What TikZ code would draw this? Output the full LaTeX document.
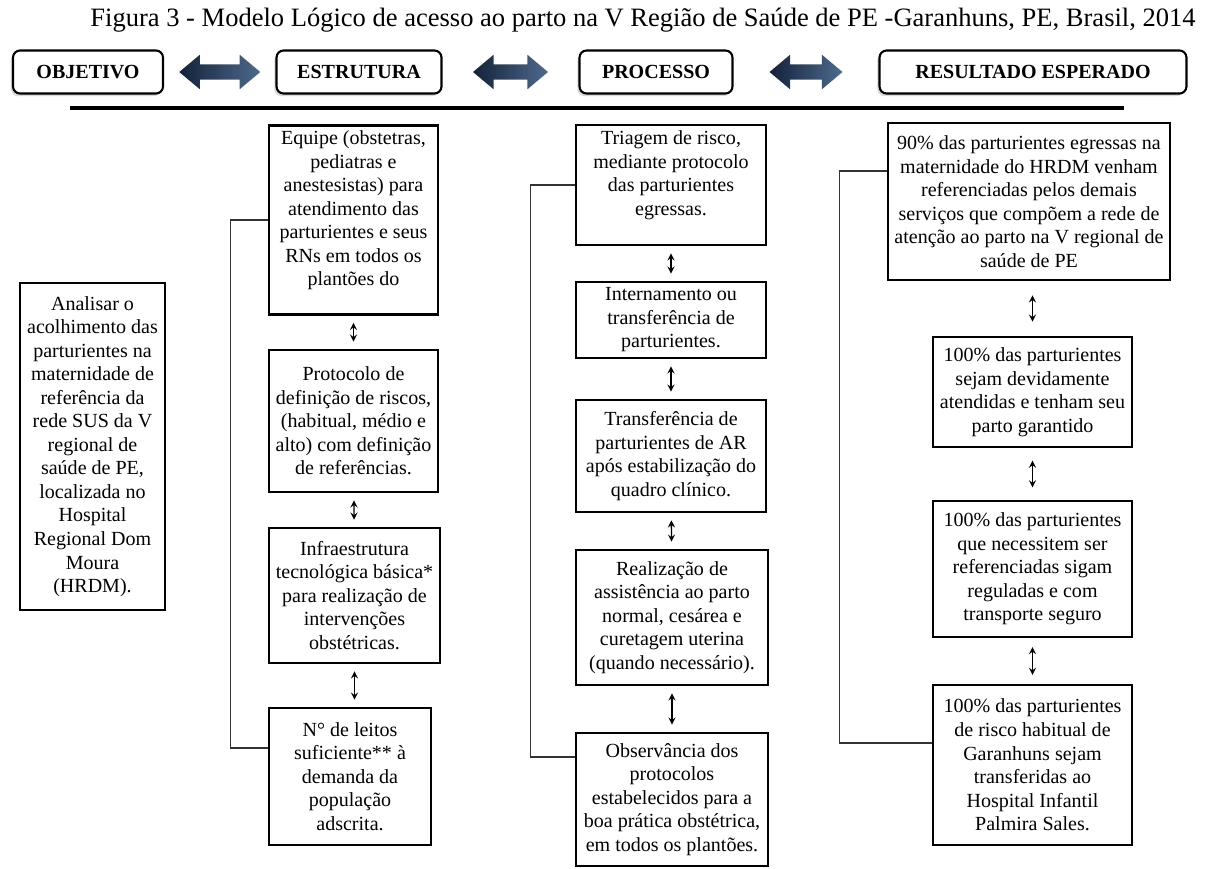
\documentclass[tikz,border=0pt]{standalone}
\usepackage{fontspec}
\setmainfont{Liberation Serif}
\usetikzlibrary{shapes, shapes.arrows, positioning, shadows, calc}
\definecolor{navydark}{HTML}{13223A}
\definecolor{navylight}{HTML}{4F6A8E}

\begin{document}
\begin{tikzpicture}[x=0.02cm, y=-0.02cm,
        head/.style={draw, line width=1.2pt, rounded corners=4pt, fill=white, minimum height=0.86cm,
            font=\fontsize{11.4}{13.4}\selectfont\bfseries,
            drop shadow={shadow xshift=-1.2pt, shadow yshift=-1.5pt, opacity=0.3}},
        bigarrow/.style={double arrow, draw=none, left color=navydark, right color=navylight,
            minimum height=#1, inner sep=4.2pt, double arrow head extend=5.4pt, double arrow tip angle=80},
        box/.style={draw, line width=1.5pt, fill=white, align=center, inner xsep=3pt, inner ysep=3pt,
            font=\fontsize{11.4}{13.4}\selectfont},
        link/.style={line width=0.8pt, draw=black!80},
        updown/.style={<->, >=stealth, line width=0.8pt, shorten <=#1, shorten >=#1},
        updown/.default=4pt]
        \useasboundingbox (0,0) rectangle (1214,869);

        \node (title) at (643,20) {\fontsize{15.1}{18}\selectfont Figura 3 - Modelo Lógico de acesso ao parto na V Região de Saúde de PE -Garanhuns, PE, Brasil, 2014};

        \node[head, minimum width=3.0cm] (hobj) at (88,72) {OBJETIVO};
        \node[head, minimum width=3.3cm] (hest) at (359,72) {ESTRUTURA};
        \node[head, minimum width=3.06cm] (hpro) at (656,72) {PROCESSO};
        \node[head, minimum width=6.14cm] (hres) at (1033,72) {RESULTADO ESPERADO};

        \node[bigarrow=1.62cm] (a1) at ($(hobj.east)!0.5!(hest.west)$) {};
        \node[bigarrow=1.5cm] (a2) at ($(hest.east)!0.5!(hpro.west)$) {};
        \node[bigarrow=1.46cm] (a3) at ($(hpro.east)!0.5!(hres.west)$) {};

        \coordinate (rulel) at (70,108);
        \coordinate (ruler) at (1124,108);
        \draw[line width=1.8pt] (rulel) -- (ruler);

        % objetivo
        \node[box, minimum width=2.9cm, minimum height=6.54cm] (obj) at (92.5,446.5) {Analisar o\\ acolhimento das\\ parturientes na\\ maternidade de\\ referência da\\ rede SUS da V\\ regional de\\ saúde de PE,\\ localizada no\\ Hospital\\ Regional Dom\\ Moura\\ (HRDM).};

        % estrutura
        \node[box, inner ysep=1.5pt, minimum width=3.38cm, minimum height=3.78cm] (e1) at (353.5,220) {Equipe (obstetras,\\ pediatras e\\ anestesistas) para\\ atendimento das\\ parturientes e seus\\ RNs em todos os\\ plantões do\\ \mbox{}};
        \node[box, minimum width=3.38cm, minimum height=2.84cm] (e2) at (353.5,421) {Protocolo de\\ definição de riscos,\\ (habitual, médio e\\ alto) com definição\\ de referências.};
        \node[box, minimum width=3.42cm, minimum height=2.7cm] (e3) at (354.5,595.5) {Infraestrutura\\ tecnológica básica*\\ para realização de\\ intervenções\\ obstétricas.};
        \node[box, minimum width=3.24cm, minimum height=2.74cm] (e4) at (350,776.5) {N° de leitos\\ suficiente** à\\ demanda da\\ população\\ adscrita.};

        % processo
        \node[box, inner ysep=1.5pt, minimum width=3.8cm, minimum height=2.4cm] (p1) at (671,185) {Triagem de risco,\\ mediante protocolo\\ das parturientes\\ egressas.\\ \mbox{}};
        \node[box, minimum width=3.8cm, minimum height=1.52cm] (p2) at (671,320) {Internamento ou\\ transferência de\\ parturientes.};
        \node[box, minimum width=3.8cm, minimum height=2.24cm] (p3) at (671,456) {Transferência de\\ parturientes de AR\\ após estabilização do\\ quadro clínico.};
        \node[box, minimum width=3.84cm, minimum height=2.7cm] (p4) at (672,617.5) {Realização de\\ assistência ao parto\\ normal, cesárea e\\ curetagem uterina\\ (quando necessário).};
        \node[box, minimum width=3.84cm, minimum height=2.66cm] (p5) at (672,799.5) {Observância dos\\ protocolos\\ estabelecidos para a\\ boa prática obstétrica,\\ em todos os plantões.};

        % resultado esperado
        \node[box, minimum width=5.64cm, minimum height=3.14cm] (r1) at (1029,201.5) {90\% das parturientes egressas na\\ maternidade do HRDM venham\\ referenciadas pelos demais\\ serviços que compõem a rede de\\ atenção ao parto na V regional de\\ saúde de PE};
        \node[box, minimum width=3.98cm, minimum height=2.2cm] (r2) at (1032.5,392) {100\% das parturientes\\ sejam devidamente\\ atendidas e tenham seu\\ parto garantido};
        \node[box, minimum width=3.98cm, minimum height=2.72cm] (r3) at (1032.5,569) {100\% das parturientes\\ que necessitem ser\\ referenciadas sigam\\ reguladas e com\\ transporte seguro};
        \node[box, minimum width=3.98cm, minimum height=3.2cm] (r4) at (1032.5,765) {100\% das parturientes\\ de risco habitual de\\ Garanhuns sejam\\ transferidas ao\\ Hospital Infantil\\ Palmira Sales.};

        \draw[updown] (e1) -- (e2);
        \draw[updown] (e2) -- (e3);
        \draw[updown] (e3.south) -- (e3.south |- e4.north);

        \draw[updown] (p1) -- (p2);
        \draw[updown] (p2) -- (p3);
        \draw[updown] (p3) -- (p4);
        \draw[updown] (p4) -- (p5);

        \draw[updown=8pt] (r2.north |- r1.south) -- (r2.north);
        \draw[updown=7pt] (r2) -- (r3);
        \draw[updown=5pt] (r3) -- (r4);

        \draw[link] (e1.west) -- ++(-37,0) |- ([yshift=0.57cm]e4.west);
        \draw[link] (p1.west) -- ++(-44,0) |- ([yshift=0.85cm]p5.west);
        \draw[link] ([yshift=0.61cm]r1.west) -- ++(-47,0) |- ([yshift=0.44cm]r4.west);
    \end{tikzpicture}
\end{document}
